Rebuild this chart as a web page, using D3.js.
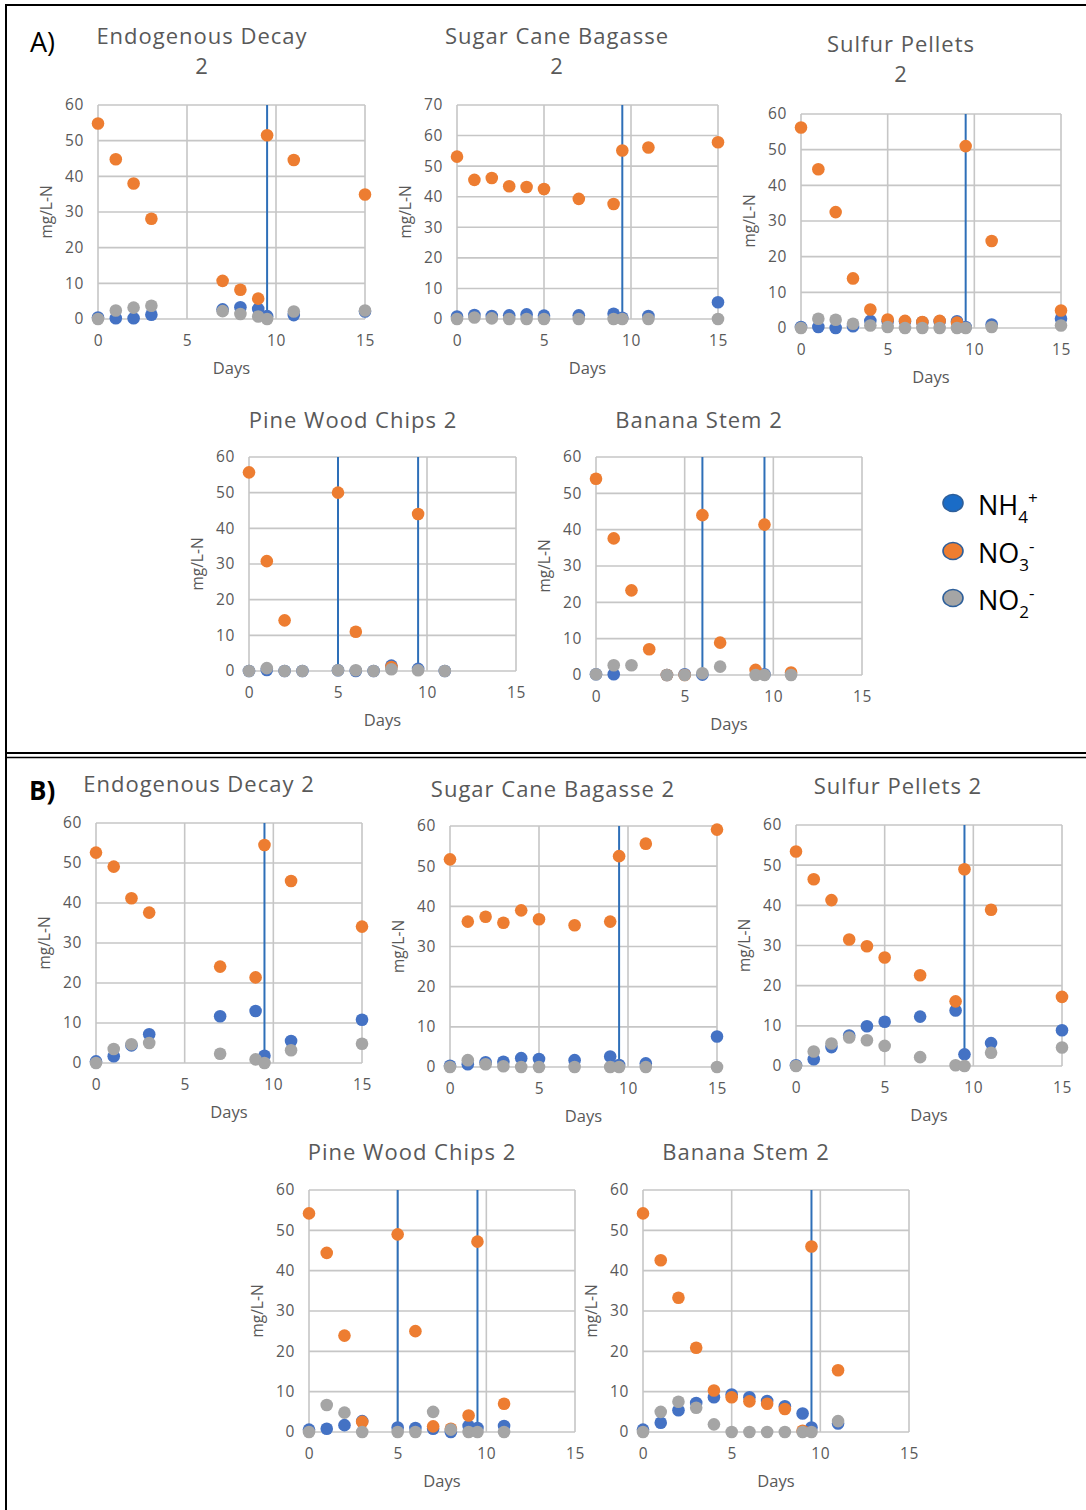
<!DOCTYPE html>
<html><head><meta charset="utf-8">
<script src="https://cdn.jsdelivr.net/npm/d3@7"></script>
<style>
body{margin:0;background:#fff;}
svg{display:block;font-family:"Open Sans","Noto Sans",sans-serif;}
</style>
</head><body>
<svg id="chart" width="1086" height="1510"></svg>
<script>
// ---------------- DATA ----------------
const xTickLabels = [0, 5, 10, 15];
const seriesNames = ["NH4", "NO3", "NO2"];

// A) Endogenous Decay 2
const daysA1 = [0, 1, 2, 3, 7, 8, 9, 9.5, 11, 15];
const nh4A1  = [0.4, 0.2, 0.2, 1.2, 2.7, 3.3, 2.8, 0.8, 1.1, 2.1];
const no3A1  = [54.8, 44.8, 38.0, 28.1, 10.7, 8.2, 5.7, 51.5, 44.6, 34.9];
const no2A1  = [0, 2.4, 3.2, 3.7, 2.2, 1.4, 0.7, 0, 2.1, 2.4];
const linesA1 = [9.5];

// A) Sugar Cane Bagasse 2
const daysA2 = [0, 1, 2, 3, 4, 5, 7, 9, 9.5, 11, 15];
const nh4A2  = [0.8, 1.3, 1.0, 1.2, 1.5, 1.1, 1.2, 1.7, 0.4, 1.0, 5.5];
const no3A2  = [53.1, 45.5, 46.1, 43.4, 43.2, 42.5, 39.3, 37.6, 55.1, 56.1, 57.8];
const no2A2  = [0, 0.5, 0.2, 0, 0, 0, 0, 0, 0, 0, 0];
const linesA2 = [9.5];

// A) Sulfur Pellets 2
const daysA3 = [0, 1, 2, 3, 4, 5, 6, 7, 8, 9, 9.5, 11, 15];
const nh4A3  = [0.3, 0.3, 0, 0.5, 2.0, 1.9, 1.8, 1.6, 1.9, 1.9, 0.3, 1.0, 2.6];
const no3A3  = [56.2, 44.5, 32.5, 13.9, 5.2, 2.4, 2.0, 1.7, 2.0, 1.5, 51.0, 24.4, 4.9];
const no2A3  = [0, 2.6, 2.3, 1.2, 0.7, 0.3, 0, 0, 0, 0, 0, 0.3, 0.7];
const linesA3 = [9.5];

// A) Pine Wood Chips 2
const daysA4 = [0, 1, 2, 3, 5, 6, 7, 8, 9.5, 11];
const nh4A4  = [0, 0.3, 0, 0, 0.2, 0, 0, 1.5, 0.6, 0];
const no3A4  = [55.7, 30.8, 14.2, null, 50.0, 11.0, null, 1.1, 44.0, null];
const no2A4  = [0, 0.8, 0, 0, 0.2, 0.2, 0, 0.5, 0.2, 0];
const linesA4 = [5, 9.5];

// A) Banana Stem 2
const daysA5 = [0, 1, 2, 3, 4, 5, 6, 7, 9, 9.5, 11];
const nh4A5  = [0.2, 0.2, null, null, 0, 0.2, 0.1, null, null, 0.2, null];
const no3A5  = [54.0, 37.6, 23.3, 7.1, 0, 0, 44.0, 8.9, 1.4, 41.4, 0.7];
const no2A5  = [0.2, 2.7, 2.7, null, 0, 0, 0.5, 2.3, 0, 0, 0];
const linesA5 = [6, 9.5];

// B) Endogenous Decay 2
const daysB1 = [0, 1, 2, 3, 7, 9, 9.5, 11, 15];
const nh4B1  = [0.4, 1.7, 4.4, 7.2, 11.7, 13.0, 1.8, 5.5, 10.8];
const no3B1  = [52.6, 49.1, 41.2, 37.6, 24.1, 21.4, 54.5, 45.5, 34.1];
const no2B1  = [0, 3.5, 4.7, 5.0, 2.3, 0.9, 0, 3.2, 4.8];
const linesB1 = [9.5];

// B) Sugar Cane Bagasse 2
const daysB2 = [0, 1, 2, 3, 4, 5, 7, 9, 9.5, 11, 15];
const nh4B2  = [0.3, 0.7, 1.2, 1.3, 2.2, 2.0, 1.7, 2.6, 0.5, 0.9, 7.6];
const no3B2  = [51.7, 36.2, 37.4, 35.9, 39.0, 36.8, 35.3, 36.2, 52.5, 55.6, 59.1];
const no2B2  = [0, 1.7, 0.7, 0.2, 0, 0, 0, 0, 0, 0, 0];
const linesB2 = [9.5];

// B) Sulfur Pellets 2
const daysB3 = [0, 1, 2, 3, 4, 5, 7, 9, 9.5, 11, 15];
const nh4B3  = [0.2, 1.7, 4.7, 7.6, 9.9, 11.0, 12.3, 13.8, 2.9, 5.7, 8.9];
const no3B3  = [53.4, 46.5, 41.3, 31.5, 29.8, 27.0, 22.6, 16.1, 49.0, 38.9, 17.2];
const no2B3  = [0, 3.6, 5.6, 7.1, 6.4, 5.0, 2.2, 0.2, 0, 3.3, 4.6];
const linesB3 = [9.5];

// B) Pine Wood Chips 2
const daysB4 = [0, 1, 2, 3, 5, 6, 7, 8, 9, 9.5, 11];
const nh4B4  = [0.6, 0.8, 1.7, 2.7, 1.1, 1.0, 0.8, 0, 1.5, 1.0, 1.5];
const no3B4  = [54.2, 44.4, 23.9, 2.5, 49.0, 25.0, 1.4, 0.8, 4.1, 47.2, 7.0];
const no2B4  = [0, 6.7, 4.8, 0, 0, 0, 5.0, 0.6, 0, 0, 0];
const linesB4 = [5, 9.5];

// B) Banana Stem 2
const daysB5 = [0, 1, 2, 3, 4, 5, 6, 7, 8, 9, 9.5, 11];
const nh4B5  = [0.6, 2.3, 5.4, 7.2, 8.6, 9.3, 8.6, 7.7, 6.4, 4.6, 1.1, 2.1];
const no3B5  = [54.2, 42.6, 33.3, 20.9, 10.3, 8.6, 7.6, 7.0, 5.7, 0.3, 46.0, 15.3];
const no2B5  = [0, 5.0, 7.5, 6.0, 1.9, 0, 0, 0, 0, 0, 0, 2.7];
const linesB5 = [9.5];

// ---------------- LAYOUT ----------------
const panels = [
  {days: daysA1, nh4: nh4A1, no3: no3A1, no2: no2A1, lines: linesA1, ymax: 60, title: ["Endogenous Decay", "2"], tx: 202, ty: [37, 67], L: 98, R: 365, T: 105, B: 319},
  {days: daysA2, nh4: nh4A2, no3: no3A2, no2: no2A2, lines: linesA2, ymax: 70, title: ["Sugar Cane Bagasse", "2"], tx: 557, ty: [37, 67], L: 457, R: 718, T: 105, B: 319},
  {days: daysA3, nh4: nh4A3, no3: no3A3, no2: no2A3, lines: linesA3, ymax: 60, title: ["Sulfur Pellets", "2"], tx: 901, ty: [45, 75], L: 801, R: 1061, T: 114, B: 328},
  {days: daysA4, nh4: nh4A4, no3: no3A4, no2: no2A4, lines: linesA4, ymax: 60, title: ["Pine Wood Chips 2"], tx: 353, ty: [421], L: 249, R: 516, T: 457, B: 671},
  {days: daysA5, nh4: nh4A5, no3: no3A5, no2: no2A5, lines: linesA5, ymax: 60, title: ["Banana Stem 2"], tx: 699, ty: [421], L: 596, R: 862, T: 457, B: 675},
  {days: daysB1, nh4: nh4B1, no3: no3B1, no2: no2B1, lines: linesB1, ymax: 60, title: ["Endogenous Decay 2"], tx: 199, ty: [785], L: 96, R: 362, T: 823, B: 1063},
  {days: daysB2, nh4: nh4B2, no3: no3B2, no2: no2B2, lines: linesB2, ymax: 60, title: ["Sugar Cane Bagasse 2"], tx: 553, ty: [790], L: 450, R: 717, T: 826, B: 1067},
  {days: daysB3, nh4: nh4B3, no3: no3B3, no2: no2B3, lines: linesB3, ymax: 60, title: ["Sulfur Pellets 2"], tx: 898, ty: [787], L: 796, R: 1062, T: 825, B: 1066},
  {days: daysB4, nh4: nh4B4, no3: no3B4, no2: no2B4, lines: linesB4, ymax: 60, title: ["Pine Wood Chips 2"], tx: 412, ty: [1153], L: 309, R: 575, T: 1190, B: 1432},
  {days: daysB5, nh4: nh4B5, no3: no3B5, no2: no2B5, lines: linesB5, ymax: 60, title: ["Banana Stem 2"], tx: 746, ty: [1153], L: 643, R: 909, T: 1190, B: 1432}
];

const colors = {NH4: "#4472c4", NO3: "#ed7d31", NO2: "#a5a5a5"};
const textCol = "#595959";
const gridCol = "#c6c6c6";
const markerLine = "#2e6fb8";

const svg = d3.select("#chart");

// Frame
svg.append("line").attr("x1", 6).attr("x2", 6).attr("y1", 4).attr("y2", 1510).attr("stroke", "#000").attr("stroke-width", 2);
svg.append("line").attr("x1", 5).attr("x2", 1086).attr("y1", 5).attr("y2", 5).attr("stroke", "#000").attr("stroke-width", 2);
svg.append("line").attr("x1", 5).attr("x2", 1086).attr("y1", 753).attr("y2", 753).attr("stroke", "#000").attr("stroke-width", 2);
svg.append("line").attr("x1", 5).attr("x2", 1086).attr("y1", 757.5).attr("y2", 757.5).attr("stroke", "#000").attr("stroke-width", 1.5);

svg.append("text").attr("x", 30).attr("y", 52).attr("font-size", 27).attr("fill", "#000").text("A)");
svg.append("text").attr("x", 29).attr("y", 800).attr("font-size", 26).attr("font-weight", "bold").attr("fill", "#000").text("B)");

panels.forEach(p => {
  const x = d3.scaleLinear().domain([0, 15]).range([p.L, p.R]);
  const y = d3.scaleLinear().domain([0, p.ymax]).range([p.B, p.T]);
  const g = svg.append("g");
  const yTicks = d3.range(0, p.ymax + 1, 10);

  // grid
  g.append("g").selectAll("line").data(yTicks).join("line")
    .attr("x1", p.L).attr("x2", p.R).attr("y1", d => y(d)).attr("y2", d => y(d))
    .attr("stroke", gridCol).attr("stroke-width", 1.6);
  g.append("g").selectAll("line").data(xTickLabels).join("line")
    .attr("x1", d => x(d)).attr("x2", d => x(d)).attr("y1", p.T).attr("y2", p.B)
    .attr("stroke", gridCol).attr("stroke-width", 1.6);

  // axes
  const ya = g.append("g").attr("transform", `translate(${p.L},0)`)
    .call(d3.axisLeft(y).tickValues(yTicks).tickSize(0).tickPadding(14));
  ya.select(".domain").remove();
  ya.selectAll("text").attr("font-size", 15.5).attr("letter-spacing", 0.6).attr("fill", textCol).attr("font-family", '"Open Sans","Noto Sans",sans-serif');
  const xa = g.append("g").attr("transform", `translate(0,${p.B})`)
    .call(d3.axisBottom(x).tickValues(xTickLabels).tickSize(0).tickPadding(16));
  xa.select(".domain").remove();
  xa.selectAll("text").attr("font-size", 15.5).attr("letter-spacing", 0.6).attr("fill", textCol).attr("font-family", '"Open Sans","Noto Sans",sans-serif');

  // axis titles
  g.append("text").attr("transform", `translate(${p.L - 46},${(p.T + p.B) / 2}) rotate(-90)`)
    .attr("text-anchor", "middle").attr("font-size", 15.5).attr("fill", textCol).text("mg/L-N");
  g.append("text").attr("x", (p.L + p.R) / 2).attr("y", p.B + 55)
    .attr("text-anchor", "middle").attr("font-size", 16.5).attr("fill", textCol).text("Days");

  // chart title
  p.title.forEach((t, i) => {
    g.append("text").attr("x", p.tx).attr("y", p.ty[i] + 7)
      .attr("text-anchor", "middle").attr("font-size", 22).attr("letter-spacing", 1)
      .attr("fill", textCol).text(t);
  });

  // vertical marker lines
  g.append("g").selectAll("line").data(p.lines).join("line")
    .attr("x1", d => x(d)).attr("x2", d => x(d)).attr("y1", p.T).attr("y2", p.B)
    .attr("stroke", markerLine).attr("stroke-width", 2);

  // points
  const series = [["NH4", p.nh4], ["NO3", p.no3], ["NO2", p.no2]];
  series.forEach(([name, vals]) => {
    const pts = p.days.map((d, i) => ({d, v: vals[i]})).filter(o => o.v !== null);
    g.append("g").selectAll("circle").data(pts).join("circle")
      .attr("cx", o => x(o.d)).attr("cy", o => y(o.v)).attr("r", 6.3)
      .attr("fill", colors[name]);
  });
});

// Legend
const legendItems = [
  {name: "NH", sub: "4", sup: "+", fill: "#1a6cc7"},
  {name: "NO", sub: "3", sup: "-", fill: "#ed7d31"},
  {name: "NO", sub: "2", sup: "-", fill: "#a5a5a5"}
];
const legendY = [503, 551, 598];
const lg = svg.append("g");
legendItems.forEach((it, i) => {
  lg.append("ellipse").attr("cx", 953).attr("cy", legendY[i]).attr("rx", 10).attr("ry", 8.5)
    .attr("fill", it.fill).attr("stroke", "#2e5f9a").attr("stroke-width", 1.6);
  const t = lg.append("text").attr("x", 978).attr("y", legendY[i] + 12).attr("font-size", 27).attr("fill", "#000");
  t.append("tspan").text(it.name);
  t.append("tspan").attr("font-size", 17).attr("dy", 8).text(it.sub);
  t.append("tspan").attr("font-size", 17).attr("dy", -19).text(it.sup);
});
</script>
</body></html>
